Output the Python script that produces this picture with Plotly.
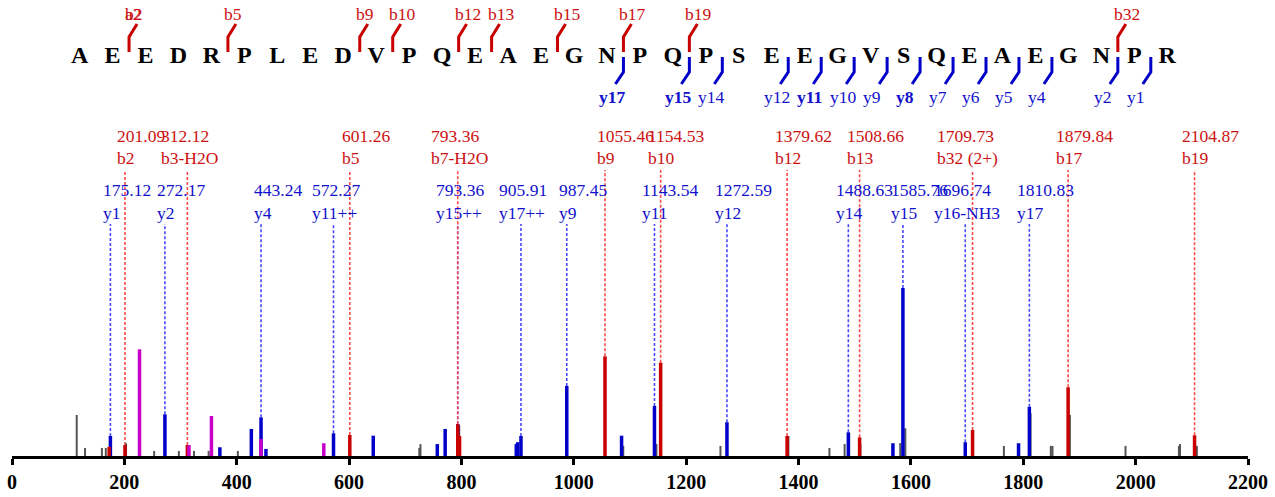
import plotly.graph_objects as go

# ---------------- data ----------------
SEQUENCE = "AEEDRPLEDVPQEAEGNPQPSEEGVSQEAEGNPR"
b_seq_ions = [2, 5, 9, 10, 12, 13, 15, 17, 19, 32]
a_seq_ions = [2]
y_seq_ions = [17, 15, 14, 12, 11, 10, 9, 8, 7, 6, 5, 4, 2, 1]
y_seq_bold = [17, 15, 11, 8]

# annotated b-type peaks
b_mz = [201.09, 312.12, 601.26, 793.36, 1055.46, 1154.53, 1379.62, 1508.66, 1709.73, 1879.84, 2104.87]
b_labels = ["b2", "b3-H2O", "b5", "b7-H2O", "b9", "b10", "b12", "b13", "b32 (2+)", "b17", "b19"]
b_int = [6.5, 6.5, 12.5, 18.9, 59.3, 55.5, 11.9, 11.1, 15.5, 40.9, 12.3]

# annotated y-type peaks
y_mz = [175.12, 272.17, 443.24, 572.27, 793.36, 905.91, 987.45, 1143.54, 1272.59, 1488.63, 1585.76, 1696.74, 1810.83]
y_labels = ["y1", "y2", "y4", "y11++", "y15++", "y17++", "y9", "y11", "y12", "y14", "y15", "y16-NH3", "y17"]
y_int = [11.9, 24.8, 23.0, 13.5, 18.9, 11.9, 41.7, 29.8, 20.1, 14.1, 100.0, 8.2, 29.3]

# other matched (unlabelled) peaks
blue_mz = [370, 426, 452, 643, 757, 771, 897.6, 900, 1085, 1568, 1791.6]
blue_int = [5.2, 16.1, 4.2, 12.1, 7.1, 16.1, 7.1, 8.2, 12.1, 7.6, 7.6]
red_mz = [173, 796.6]
red_int = [5.4, 11.9]
magenta_mz = [227, 315, 355, 443, 555]
magenta_int = [63.5, 6.5, 23.8, 10.1, 7.6]

# unmatched peaks
gray_mz = [115.2, 130, 160, 167, 203, 253, 297, 324, 350, 402, 725, 727, 796, 1088, 1147,
           1261, 1382, 1455, 1482, 1490, 1510, 1581, 1590, 1698, 1765.5, 1813, 1849, 1852,
           1883, 1982, 2077, 2079, 2109]
gray_int = [24.4, 4.8, 4.8, 4.8, 7.6, 3.0, 3.0, 3.0, 3.0, 3.0, 4.8, 7.1, 18.3, 6.0, 7.1,
            6.0, 11.9, 4.8, 7.1, 13.5, 7.1, 7.7, 16.5, 6.0, 6.0, 25.4, 6.0, 6.0,
            24.4, 6.0, 6.0, 7.1, 6.0]

x_ticks = [0, 200, 400, 600, 800, 1000, 1200, 1400, 1600, 1800, 2000, 2200]

# ---------------- styling / layout constants ----------------
W, H = 1275, 497
ML, MR, MT, MB = 12, 27, 0, 41
PLOT_H = H - MT - MB
PLOT_W = W - ML - MR
Y_MAX = 271.4
SEQ_X0_PX = 79.6      # pixel x of first residue
SEQ_STEP_PX = 32.96   # pixel spacing between residues
FONT = "Liberation Serif"
LBL_SIZE = 17.5

C_BLUE = "#0000c8"
C_RED = "#c80000"
C_MAG = "#c800c8"
C_GRAY = "#555555"
C_RED_TXT = "#cc1111"
C_BLUE_TXT = "#1111cc"
C_RED_DASH = "#ff4848"
C_BLUE_DASH = "#4848ff"


def px_to_int(p):
    return (PLOT_H - p) / PLOT_H * Y_MAX


def stems(mz, inten):
    xs, ys = [], []
    for m, v in zip(mz, inten):
        xs += [m, m, None]
        ys += [0, v, None]
    return xs, ys


fig = go.Figure()


def guides(mz, inten, top_px, color):
    xs, ys = [], []
    for m, v in zip(mz, inten):
        xs += [m, m, None]
        ys += [v, px_to_int(top_px), None]
    fig.add_trace(go.Scatter(x=xs, y=ys, mode="lines",
                             line=dict(color=color, width=1.6, dash="3px,2px"),
                             hoverinfo="skip", showlegend=False))


guides(y_mz, y_int, 224, C_BLUE_DASH)
guides(b_mz, b_int, 170, C_RED_DASH)

# peaks
for mz, inten, col, w in [
    (gray_mz, gray_int, C_GRAY, 2),
    (blue_mz + y_mz, blue_int + y_int, C_BLUE, 3.5),
    (red_mz + b_mz, red_int + b_int, C_RED, 3.5),
    (magenta_mz, magenta_int, C_MAG, 3.5),
]:
    xs, ys = stems(mz, inten)
    fig.add_trace(go.Scatter(x=xs, y=ys, mode="lines", line=dict(color=col, width=w),
                             hoverinfo="skip", showlegend=False))

annotations = []


def label(x, y, text, color, xref="x", shift=0.0):
    annotations.append(dict(x=x, y=y, xref=xref, yref="y2", text=text,
                            showarrow=False, xanchor="left", yanchor="middle", xshift=shift,
                            font=dict(family=FONT, size=LBL_SIZE, color=color)))


# peak labels
for mz, lab in zip(b_mz, b_labels):
    shift = -4.75 * len(lab)
    label(mz, 136, f"{mz:.2f}", C_RED_TXT, shift=shift)
    label(mz, 158, lab, C_RED_TXT, shift=shift)
for mz, lab in zip(y_mz, y_labels):
    shift = -4.75 * len(lab)
    label(mz, 190, f"{mz:.2f}", C_BLUE_TXT, shift=shift)
    label(mz, 213, lab, C_BLUE_TXT, shift=shift)

# sequence letters
fig.add_trace(go.Scatter(x=list(range(len(SEQUENCE))), y=[57] * len(SEQUENCE),
                         xaxis="x2", yaxis="y2", mode="text", text=list(SEQUENCE),
                         textposition="middle center",
                         textfont=dict(family=FONT, size=24, color="black", weight="bold"),
                         hoverinfo="skip", showlegend=False))

dx = 8 / SEQ_STEP_PX
# b fragment markers
bx, by = [], []
for n in b_seq_ions:
    c = n - 0.5
    bx += [c, c, c + dx, None]
    by += [52, 37, 24, None]
fig.add_trace(go.Scatter(x=bx, y=by, xaxis="x2", yaxis="y2", mode="lines",
                         line=dict(color=C_RED, width=3), hoverinfo="skip", showlegend=False))
# y fragment markers
yx, yy = [], []
for n in y_seq_ions:
    c = len(SEQUENCE) - 0.5 - n
    yx += [c, c, c - dx, None]
    yy += [57, 72, 84, None]
fig.add_trace(go.Scatter(x=yx, y=yy, xaxis="x2", yaxis="y2", mode="lines",
                         line=dict(color=C_BLUE, width=3), hoverinfo="skip", showlegend=False))

for n in a_seq_ions:
    label(n - 0.5, 13.5, f"a{n}", C_RED_TXT, xref="x2", shift=-6)
for n in b_seq_ions:
    label(n - 0.5, 13.5, f"b{n}", C_RED_TXT, xref="x2", shift=-6)
for n in y_seq_ions:
    txt = f"<b>y{n}</b>" if n in y_seq_bold else f"y{n}"
    label(len(SEQUENCE) - 0.5 - n, 97, txt, C_BLUE_TXT, xref="x2", shift=-26.3)

fig.update_layout(
    width=W, height=H,
    margin=dict(l=ML, r=MR, t=MT, b=MB, pad=0),
    paper_bgcolor="white", plot_bgcolor="white",
    showlegend=False,
    xaxis=dict(range=[x_ticks[0], x_ticks[-1]], tickvals=x_ticks, ticktext=[str(t) for t in x_ticks],
               showline=True, linecolor="black", linewidth=3, ticks="outside", ticklen=6,
               tickwidth=3, tickcolor="black", showgrid=False, zeroline=False, automargin=False,
               tickfont=dict(family=FONT, size=20, color="black", weight="bold")),
    yaxis=dict(range=[0, Y_MAX], visible=False, showgrid=False, zeroline=False),
    xaxis2=dict(range=[(ML - SEQ_X0_PX) / SEQ_STEP_PX, (ML + PLOT_W - SEQ_X0_PX) / SEQ_STEP_PX],
                overlaying="x", anchor="y2", visible=False),
    yaxis2=dict(range=[PLOT_H, 0], overlaying="y", anchor="x2", visible=False),
    annotations=annotations,
)

fig.write_html("out.html", config={"displayModeBar": False},
               post_script="document.body.style.margin='0';document.body.style.overflow='hidden';")
